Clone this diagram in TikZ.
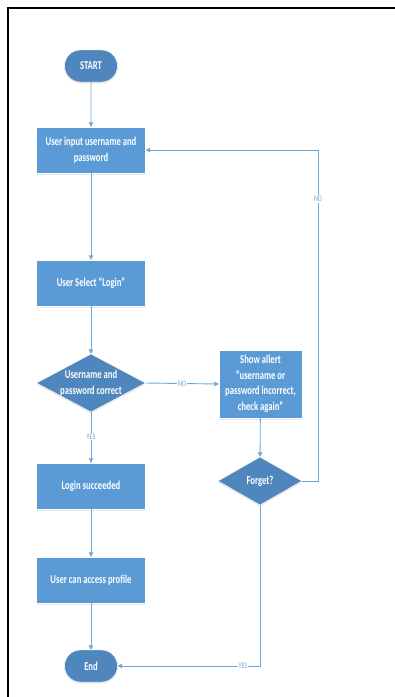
\documentclass[tikz,border=0pt]{standalone}
\usepackage{fontspec}
\setmainfont{Carlito}[FakeStretch=0.72]
\usetikzlibrary{arrows.meta,shapes.geometric,shapes.misc,shadows}

\definecolor{boxblue}{HTML}{5B9BD5}
\definecolor{decblue}{HTML}{4E86BD}
\definecolor{lineblue}{HTML}{6FA8DC}

\tikzset{
  softshadow/.style={drop shadow={shadow xshift=0pt,shadow yshift=-1.5pt,opacity=0.18,fill=gray}},
  txt/.style={text=white,font=\fontsize{12}{15.5}\selectfont\bfseries,align=center,inner sep=0pt},
  stepbox/.style={rectangle,fill=boxblue,draw=white,line width=0.4pt,minimum width=109pt,minimum height=46pt,softshadow,txt},
  terminal/.style={rounded rectangle,fill=decblue,draw=white,line width=0.4pt,minimum width=53pt,minimum height=32pt,softshadow,txt},
  decision/.style={diamond,fill=decblue,draw=white,line width=0.4pt,inner sep=0pt,softshadow},
  flow/.style={draw=lineblue,line width=0.9pt,-{Triangle[width=4.5pt,length=4.5pt]}},
  lbl/.style={fill=white,text=lineblue,font=\fontsize{8.5}{9}\selectfont,inner sep=0.8pt}
}

\begin{document}
\begin{tikzpicture}[x=1pt,y=-1pt]
  % page area and frame
  \useasboundingbox (0,0) rectangle (395,697);
  \fill[white] (0,0) rectangle (395,697);
  \draw[black,line width=2pt] (7.5,697) -- (7.5,7.5) -- (395,7.5);

  % main column
  \node[terminal] (start) at (91,66) {START};
  \node[stepbox] (input) at (91,150) {User input username and\\password};
  \node[stepbox] (select) at (91,283) {User Select “Login”};
  \node[decision,minimum width=109pt,minimum height=58pt] (check) at (91,383) {};
  \node[txt] (checktxt) at (check) {Username and\\password correct};
  \node[stepbox] (success) at (91,486) {Login succeeded};
  \node[stepbox] (profile) at (91,580) {User can access profile};
  \node[terminal] (end) at (91,666) {End};

  % right column
  \node[stepbox,minimum width=83pt,minimum height=68pt] (alert) at (260.5,384)
    {Show allert\\“username or\\password incorrect,\\check again”};
  \node[decision,minimum width=84pt,minimum height=48pt] (forget) at (260,481) {};
  \node[txt] (forgettxt) at (forget) {Forget?};

  % corner points of the return paths
  \coordinate (loopR) at (318,150);
  \coordinate (loopB) at (260,666);

  % connectors
  \draw[flow] (start) -- (input);
  \draw[flow] (input) -- (select);
  \draw[flow] (select) -- (check);
  \draw[flow] (check) -- node[lbl,pos=0.48] {YES} (success);
  \draw[flow] (success) -- (profile);
  \draw[flow] (profile) -- (end);
  \draw[flow] (check.east) -- node[lbl] {NO} (alert.west);
  \draw[flow] (alert) -- (forget);
  \draw[flow] (forget.east) -| node[lbl,pos=0.926] {NO} (loopR) -- (input.east);
  \draw[flow] (forget.south) -- (loopB) -- node[lbl,pos=0.12] {YES} (end.east);
\end{tikzpicture}
\end{document}
